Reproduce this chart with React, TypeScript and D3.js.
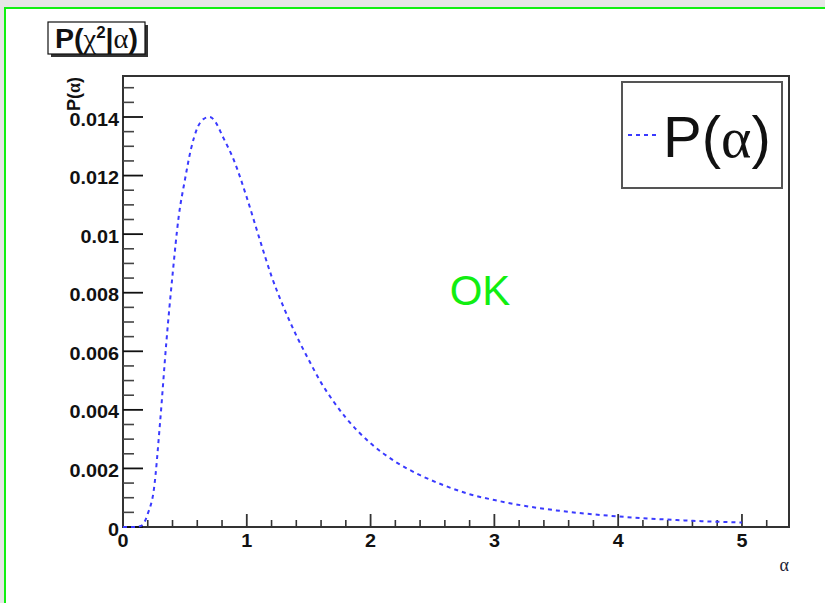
import React from "react";
import * as d3 from "d3";

// Likelihood curve P(alpha) sampled along alpha
const alpha = [0, 0.1, 0.15, 0.2, 0.25, 0.3, 0.35, 0.4, 0.45, 0.5, 0.55, 0.6, 0.65, 0.7, 0.75, 0.8, 0.9, 1.0, 1.1, 1.2, 1.3, 1.4, 1.5, 1.6, 1.7, 1.8, 1.9, 2.0, 2.2, 2.4, 2.6, 2.8, 3.0, 3.25, 3.5, 3.75, 4.0, 4.25, 4.5, 4.75, 5.0];
const prob = [0, 0, 0.00005, 0.00045, 0.0013, 0.0036, 0.0063, 0.0086, 0.0106, 0.01185, 0.01292, 0.01362, 0.01393, 0.014, 0.01381, 0.01338, 0.01248, 0.01125, 0.00988, 0.00856, 0.00748, 0.00654, 0.00571, 0.00493, 0.00429, 0.00373, 0.00326, 0.00286, 0.00223, 0.00177, 0.00141, 0.00112, 0.00092, 0.000717, 0.000567, 0.000451, 0.00036, 0.000289, 0.000232, 0.000187, 0.000151];

const xMajorTicks = [0, 1, 2, 3, 4, 5];
const xTickLabels = ["0", "1", "2", "3", "4", "5"];
const yMajorTicks = [0, 0.002, 0.004, 0.006, 0.008, 0.01, 0.012, 0.014];
const yTickLabels = ["0", "0.002", "0.004", "0.006", "0.008", "0.01", "0.012", "0.014"];

const X_MAX = 5.38;
const Y_MAX = 0.0154;

const SANS = "'Liberation Sans', Arial, Helvetica, sans-serif";
const SERIF = "'Liberation Serif', 'Times New Roman', serif";

export default function App() {
  const W = 825;
  const H = 603;
  const left = 123, right = 789, top = 76, bottom = 527;

  const x = d3.scaleLinear().domain([0, X_MAX]).range([left, right]);
  const y = d3.scaleLinear().domain([0, Y_MAX]).range([bottom, top]);

  const line = d3
    .line<number>()
    .x((_, i) => x(alpha[i]))
    .y((d) => y(d))
    .curve(d3.curveMonotoneX);

  const xMinor = d3.range(0, X_MAX + 1e-9, 0.2).filter((v) => Math.abs(v - Math.round(v)) > 1e-6);
  const yMinor = d3.range(0, Y_MAX, 0.0005).filter((v) => Math.abs(v / 0.002 - Math.round(v / 0.002)) > 1e-6);

  return (
    <div style={{ position: "absolute", left: 0, top: 0 }}>
      <svg width={W} height={H} style={{ display: "block" }}>
        <rect x={0} y={0} width={W} height={H} fill="#e6e6e6" />
        <rect x={5} y={8} width={W + 20} height={H + 20} fill="#ffffff" stroke="#11f011" strokeWidth={2} />

        {/* title box with shadow */}
        <rect x={51} y={25} width={97} height={32} fill="#333" />
        <rect x={48} y={22} width={97} height={32} fill="#fff" stroke="#111" strokeWidth={1.2} />
        <text x={55} y={48} fontFamily={SANS} fontSize={27} fontWeight="bold" fill="#111" textLength={83} lengthAdjust="spacingAndGlyphs">
          P(<tspan fontFamily={SERIF} fontWeight="normal">χ</tspan>
          <tspan fontSize={16} dy={-10}>2</tspan>
          <tspan dy={10}>|</tspan>
          <tspan fontFamily={SERIF} fontWeight="normal">α</tspan>)
        </text>

        {/* frame */}
        <rect x={left} y={top} width={right - left} height={bottom - top} fill="none" stroke="#333" strokeWidth={2} />

        {/* y ticks */}
        {yMinor.map((v, i) => (
          <line key={"ym" + i} x1={left} x2={left + 11} y1={y(v)} y2={y(v)} stroke="#444" strokeWidth={1.6} />
        ))}
        {yMajorTicks.map((v, i) => (
          <line key={"yM" + i} x1={left} x2={left + 20} y1={y(v)} y2={y(v)} stroke="#111" strokeWidth={1.8} />
        ))}
        {yMajorTicks.map((v, i) => (
          <text
            key={"yl" + i}
            transform={`translate(119,${y(v) + 8.5}) scale(1.1,1)`}
            textAnchor="end"
            fontFamily={SANS}
            fontWeight="bold"
            fontSize={18}
            fill="#111"
          >
            {yTickLabels[i]}
          </text>
        ))}

        {/* x ticks */}
        {xMinor.map((v, i) => (
          <line key={"xm" + i} x1={x(v)} x2={x(v)} y1={bottom} y2={bottom - 7} stroke="#333" strokeWidth={1.6} />
        ))}
        {xMajorTicks.map((v, i) => (
          <line key={"xM" + i} x1={x(v)} x2={x(v)} y1={bottom} y2={bottom - 13} stroke="#333" strokeWidth={1.8} />
        ))}
        {xMajorTicks.map((v, i) => (
          <text
            key={"xl" + i}
            transform={`translate(${x(v)},547) scale(1.1,1)`}
            textAnchor="middle"
            fontFamily={SANS}
            fontWeight="bold"
            fontSize={18}
            fill="#111"
          >
            {xTickLabels[i]}
          </text>
        ))}

        {/* axis titles */}
        <text x={789} y={571} textAnchor="end" fontFamily={SERIF} fontSize={18} fill="#223">α</text>
        <text transform="translate(80,77) rotate(-90)" textAnchor="end" fontFamily={SANS} fontWeight="bold" fontSize={18} fill="#111">
          P(<tspan fontFamily={SERIF}>α</tspan>)
        </text>

        {/* curve */}
        <path d={line(prob) || ""} fill="none" stroke="#3a3aff" strokeWidth={2} strokeDasharray="4 4" />

        {/* legend */}
        <rect x={622} y={82} width={160} height={106} fill="#fff" stroke="#555" strokeWidth={2} />
        <line x1={628} x2={657} y1={135} y2={135} stroke="#3a3aff" strokeWidth={2} strokeDasharray="4 4" />
        <text x={663} y={157} fontFamily={SANS} fontSize={58} fill="#111">
          P(<tspan fontFamily={SERIF}>α</tspan>)
        </text>

        {/* status */}
        <text x={480} y={305} textAnchor="middle" fontFamily={SANS} fontSize={42} fill="#11ee11">OK</text>
      </svg>
    </div>
  );
}
